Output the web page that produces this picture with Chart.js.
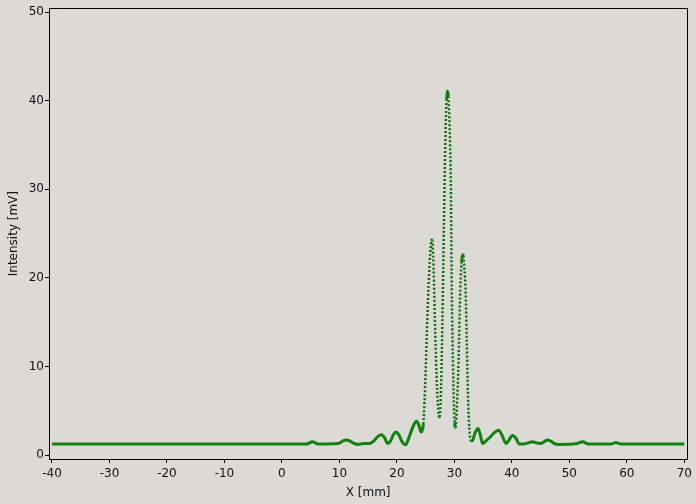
<!DOCTYPE html>
<html>
<head>
<meta charset="utf-8">
<script src="https://cdn.jsdelivr.net/npm/chart.js@4"></script>
<style>
  html, body { margin: 0; padding: 0; background: #dcdad5; }
  #wrap { width: 696px; height: 504px; }
</style>
</head>
<body>
<div id="wrap"><canvas id="chart"></canvas></div>
<script>
// position along the scan [mm]
const xPos = [
    -40, -20, 0, 4.3, 5.3, 6.3, 9.8, 10.5, 11.2, 11.9,
    12.6, 13.2, 14.2, 15.3, 16.0, 16.7, 17.3, 17.9, 18.4, 18.9,
    19.4, 19.9, 20.4, 20.9, 21.5, 22.0, 22.5, 23.0, 23.4, 23.8,
    24.2, 24.4, 24.6, 24.8, 25.0, 25.2, 25.4, 25.6, 25.8, 26.0,
    26.15, 26.3, 26.45, 26.6, 26.75, 26.9, 27.1, 27.3, 27.45, 27.6,
    27.75, 27.9, 28.05, 28.2, 28.35, 28.5, 28.65, 28.8, 28.95, 29.1,
    29.25, 29.4, 29.5, 29.6, 29.75, 29.9, 30.05, 30.2, 30.35, 30.5,
    30.65, 30.8, 30.95, 31.1, 31.25, 31.4, 31.55, 31.7, 31.85, 32.0,
    32.15, 32.3, 32.45, 32.6, 32.8, 33.1, 33.6, 34.1, 34.5, 34.9,
    35.5, 36.2, 36.9, 37.7, 38.3, 39.0, 39.5, 40.1, 40.7, 41.3,
    42.0, 43.0, 43.6, 44.3, 45.0, 45.6, 46.2, 46.8, 47.5, 48.2,
    51.3, 52.3, 53.3, 57.2, 58.1, 59.0, 70
];

// intensity [mV]
const intensity = [
    1.25, 1.25, 1.25, 1.25, 1.5, 1.25, 1.3, 1.55, 1.7, 1.55,
    1.3, 1.2, 1.3, 1.3, 1.6, 2.1, 2.3, 1.9, 1.3, 1.6,
    2.3, 2.6, 2.2, 1.5, 1.15, 1.8, 2.7, 3.5, 3.8, 3.4,
    2.6, 2.8, 3.5, 6, 9.5, 13.5, 17.5, 20.5, 22.8, 24.2,
    24.3, 22.5, 19.5, 15.5, 12, 9, 6, 4.5, 4.3, 5.8,
    9.5, 14.5, 20.5, 27, 33, 37.5, 40.2, 41.1, 40.5, 38.5,
    35, 30, 22, 16, 10.5, 6, 3.6, 3.1, 4.2, 6.5,
    9, 12.5, 17, 20, 21.8, 22.6, 22.5, 21.5, 20, 17.5,
    13, 8.5, 5, 3, 1.7, 1.6, 2.5, 3.0, 2.3, 1.3,
    1.6, 2.0, 2.5, 2.8, 2.2, 1.3, 1.7, 2.2, 1.9, 1.25,
    1.25, 1.4, 1.5, 1.35, 1.3, 1.5, 1.7, 1.55, 1.25, 1.2,
    1.3, 1.5, 1.25, 1.25, 1.4, 1.25, 1.25
];

const xTicks = [-40, -30, -20, -10, 0, 10, 20, 30, 40, 50, 60, 70];
const yTicks = [0, 10, 20, 30, 40, 50];

const green = '#10800f';

// steep parts look dotted (sparse samples), flat parts solid
const steep = ctx => {
    const dx = Math.abs(ctx.p1.x - ctx.p0.x);
    const dy = Math.abs(ctx.p1.y - ctx.p0.y);
    return dy > 8 && dy > 4 * dx;
};

const frame = {
    id: 'frame',
    afterDraw(chart) {
        const a = chart.chartArea;
        const c = chart.ctx;
        c.save();
        c.strokeStyle = '#000';
        c.lineWidth = 1;
        c.strokeRect(Math.round(a.left) + 0.5, Math.round(a.top) + 0.5,
            Math.round(a.right - a.left), Math.round(a.bottom - a.top));
        c.restore();
    }
};

const bg = {
    id: 'bg',
    beforeDraw(chart) {
        const c = chart.ctx;
        c.save();
        c.fillStyle = '#dcdad5';
        c.fillRect(0, 0, chart.width, chart.height);
        c.restore();
    }
};

Chart.defaults.font.family = 'DejaVu Sans';
Chart.defaults.font.size = 12;
Chart.defaults.color = '#111';

new Chart(document.querySelector('#chart'), {
    type: 'scatter',
    data: {
        datasets: [{
            data: xPos.map((x, i) => ({ x: x, y: intensity[i] })),
            showLine: true,
            borderColor: green,
            borderWidth: 3,
            pointRadius: 0,
            cubicInterpolationMode: 'monotone',
            segment: {
                borderDash: ctx => steep(ctx) ? [2, 2] : undefined,
                borderWidth: ctx => steep(ctx) ? 2.5 : 3,
                borderColor: ctx => steep(ctx) ? '#0b6e0b' : green
            }
        }]
    },
    options: {
        responsive: true,
        maintainAspectRatio: false,
        animation: false,
        layout: { padding: { top: 8, right: 8, left: 0, bottom: 0 } },
        plugins: { legend: { display: false }, tooltip: { enabled: false } },
        scales: {
            x: {
                type: 'linear',
                min: -40.52,
                max: 70.52,
                afterBuildTicks: s => { s.ticks = xTicks.map(v => ({ value: v })); },
                afterFit: s => { s.height = 45; },
                grid: { drawOnChartArea: false, drawTicks: true, tickLength: 4, color: '#000' },
                border: { display: false },
                ticks: { padding: 4, maxRotation: 0, autoSkip: false },
                title: { display: true, text: 'X [mm]', padding: { top: 0, bottom: 4 } }
            },
            y: {
                type: 'linear',
                min: -0.45,
                max: 50.45,
                afterBuildTicks: s => { s.ticks = yTicks.map(v => ({ value: v })); },
                afterFit: s => { s.width = 49; },
                grid: { drawOnChartArea: false, drawTicks: true, tickLength: 4, color: '#000' },
                border: { display: false },
                ticks: { padding: 1, autoSkip: false },
                title: { display: true, text: 'Intensity [mV]', padding: { top: 7, bottom: 2 } }
            }
        }
    },
    plugins: [bg, frame]
});
</script>
</body>
</html>
